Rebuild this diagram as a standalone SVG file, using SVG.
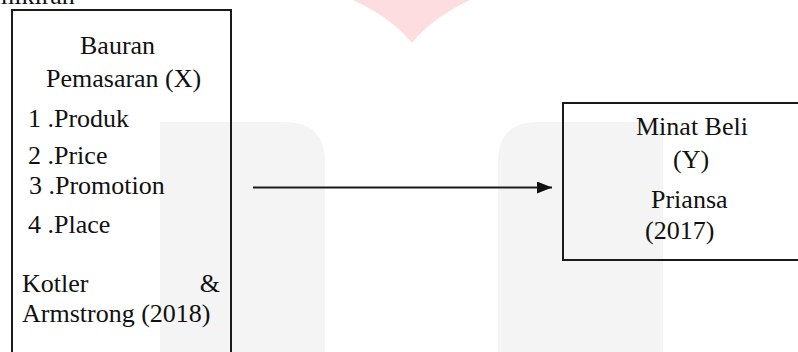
<svg xmlns="http://www.w3.org/2000/svg" width="798" height="352" viewBox="0 0 798 352">
<defs>
<style>
.t{font-family:"Liberation Serif","Times New Roman",serif;font-size:26px;fill:#111}
.box{fill:none;stroke:#1a1a1a;stroke-width:2}
.wm{fill:#f4f4f4}
</style>
<marker id="ah" markerWidth="16" markerHeight="12" refX="15" refY="6" orient="auto" markerUnits="userSpaceOnUse">
<path d="M0,0 L15,6 L0,12 Z" fill="#111"/>
</marker>
</defs>
<rect width="798" height="352" fill="#fff"/>
<g id="watermark">
<path class="wm" d="M160,352 L160,122 L285,122 Q325,122 325,162 L325,352 Z"/>
<path class="wm" d="M498,352 L498,162 Q498,122 538,122 L663,122 L663,352 Z"/>
<path d="M353,0 Q392,18 412,43 Q432,18 470,0 Z" fill="#fddde0"/>
</g>
<text class="t" x="-6" y="4">mikiran</text>
<g id="node-x">
<rect class="box" x="12" y="10" width="219" height="360"/>
<text class="t" x="80" y="54">Bauran</text>
<text class="t" x="46" y="87">Pemasaran (X)</text>
<text class="t" x="28" y="127">1 .Produk</text>
<text class="t" x="28" y="164">2 .Price</text>
<text class="t" x="29" y="194">3 .Promotion</text>
<text class="t" x="28" y="233">4 .Place</text>
<text class="t" x="22" y="292">Kotler</text>
<text class="t" x="220" y="292" text-anchor="end">&amp;</text>
<text class="t" x="22" y="322">Armstrong (2018)</text>
</g>
<g id="node-y">
<rect class="box" x="563" y="103" width="250" height="157"/>
<text class="t" x="636" y="135">Minat Beli</text>
<text class="t" x="673" y="168">(Y)</text>
<text class="t" x="651" y="208">Priansa</text>
<text class="t" x="645" y="239">(2017)</text>
</g>
<g id="connectors">
<line x1="253" y1="187.5" x2="552" y2="187.5" stroke="#1a1a1a" stroke-width="2" marker-end="url(#ah)"/>
</g>
</svg>
